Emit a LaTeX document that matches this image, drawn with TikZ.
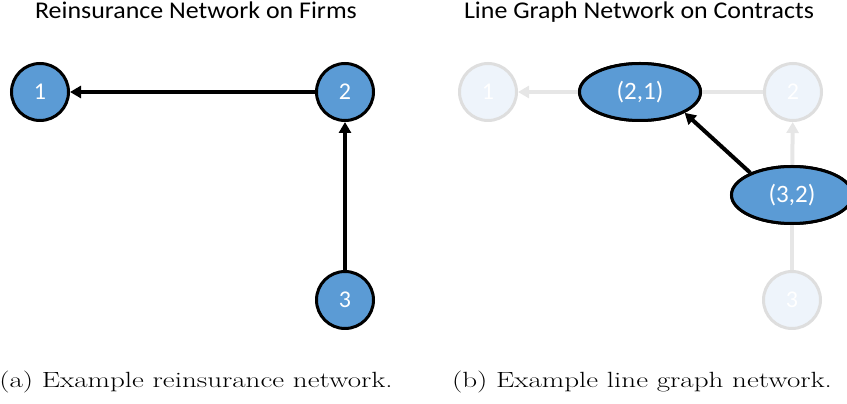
\documentclass[tikz,border=0pt]{standalone}
\usepackage{fontspec}
\newfontfamily\calib{Carlito}
\usetikzlibrary{arrows.meta,shapes.geometric}
\definecolor{nblue}{HTML}{5B9BD5}
\definecolor{fadefill}{HTML}{EEF4FB}
\definecolor{fadeline}{HTML}{E6E6E6}
\definecolor{fadedraw}{HTML}{DEDEDE}
\begin{document}
\begin{tikzpicture}[x=1pt,y=1pt,
  firm/.style={circle,draw=black,line width=3pt,fill=nblue,minimum size=57pt,inner sep=0pt,
    text=white,font=\calib\fontsize{24}{26}\selectfont},
  fadefirm/.style={circle,draw=fadedraw,line width=3pt,fill=fadefill,minimum size=57pt,inner sep=0pt,
    text=white,font=\calib\fontsize{24}{26}\selectfont},
  contract/.style={ellipse,draw=black,line width=3pt,fill=nblue,minimum width=121pt,minimum height=57pt,inner sep=0pt,
    text=white,font=\calib\fontsize{25}{27}\selectfont},
  edge/.style={line width=4pt,-{Triangle[length=11pt,width=12pt]}},
  fadeedge/.style={line width=4pt,draw=fadeline,-{Triangle[length=11pt,width=12pt]}},
  fadeline/.style={line width=4pt,draw=fadeline},
  title/.style={font=\calib\fontsize{24}{26}\selectfont,anchor=base},
  capt/.style={font=\fontsize{22}{24}\selectfont,anchor=base}]
\useasboundingbox (0,0) rectangle (847,404);
% left panel
\node[title] (t1) at (196,385) {\scalebox{1.08}[1]{Reinsurance Network on Firms}};
\node[firm] (f1) at (40,312) {1};
\node[firm] (f2) at (345,312) {2};
\node[firm] (f3) at (345,104) {3};
\draw[edge] (f2) -- (f1);
\draw[edge] (f3) -- (f2);
% right panel
\node[title] (t2) at (639,385) {\scalebox{1.08}[1]{Line Graph Network on Contracts}};
\node[fadefirm] (g1) at (488,312) {1};
\node[fadefirm] (g2) at (793,312) {2};
\node[fadefirm] (g3) at (792,104) {3};
\node[contract] (c21) at (640,312) {(2,1)};
\node[contract] (c32) at (792,209) {(3,2)};
\draw[fadeline] (g2) -- (c21);
\draw[fadeedge] (c21) -- (g1);
\draw[fadeline] (g3) -- (c32);
\draw[fadeedge] (c32) -- (g2);
\node[contract] at (c21) {(2,1)};
\node[contract] at (c32) {(3,2)};
\draw[edge] (c32.152) -- (c21.-25);
% captions
\node[capt] (ca) at (196,16) {\scalebox{1.32}[1]{(a) Example reinsurance network.}};
\node[capt] (cb) at (642,16) {\scalebox{1.32}[1]{(b) Example line graph network.}};
\end{tikzpicture}
\end{document}
